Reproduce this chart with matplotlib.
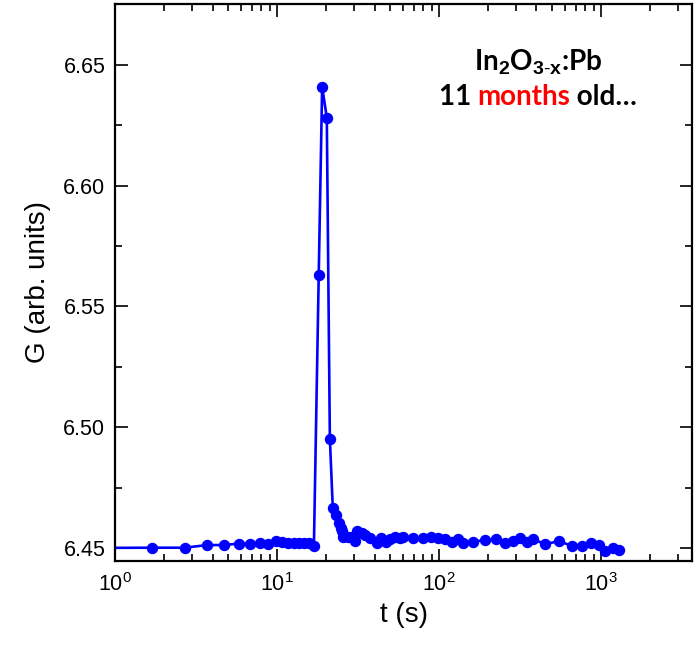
import matplotlib
matplotlib.use("Agg")
import matplotlib.pyplot as plt
from matplotlib.ticker import LogLocator, MultipleLocator, NullFormatter

plt.rcParams['font.family'] = ['Liberation Sans', 'DejaVu Sans']
plt.rcParams['mathtext.fontset'] = 'custom'
plt.rcParams['mathtext.rm'] = 'Liberation Sans'
plt.rcParams['mathtext.it'] = 'Liberation Sans:italic'
plt.rcParams['mathtext.bf'] = 'Liberation Sans:bold'

# ---- data ----
t = [0.7, 1.7, 2.7, 3.7, 4.7, 5.8, 6.8, 7.8, 8.8, 9.8,
     10.7, 11.7, 12.7, 13.7, 14.7, 15.7, 16.9,
     18.1, 19.0, 20.3, 21.2, 22.1, 23.1, 24.1, 24.8,
     25.3, 25.7, 27.5, 29.0, 30.3, 31.3, 33.3, 34.9, 37.5, 41.2,
     43.9, 47.1, 49.9, 53.5, 57.5, 59.7, 68.8, 79.3, 89.3, 99.0,
     108.9, 119.8, 130.4, 141.3, 161.4, 192.3, 224.9, 255.5, 285.1, 316.2,
     350.8, 382.2, 451, 553, 659, 760, 868, 977, 1059, 1181, 1297]
G = [6.4500, 6.4501, 6.4501, 6.4512, 6.4512, 6.4518, 6.4517, 6.4521, 6.4517, 6.4528,
     6.4523, 6.4522, 6.4521, 6.4521, 6.4520, 6.4519, 6.4508,
     6.5631, 6.6409, 6.6282, 6.4953, 6.4667, 6.4636, 6.4602, 6.4584,
     6.4571, 6.4547, 6.4547, 6.4545, 6.4529, 6.4571, 6.4561, 6.4554, 6.4540, 6.4522,
     6.4540, 6.4526, 6.4536, 6.4547, 6.4540, 6.4547, 6.4540, 6.4543, 6.4547, 6.4540,
     6.4536, 6.4526, 6.4537, 6.4522, 6.4526, 6.4532, 6.4536, 6.4519, 6.4528, 6.4541,
     6.4524, 6.4537, 6.4515, 6.4529, 6.4508, 6.4510, 6.4522, 6.4511, 6.4489, 6.4499, 6.4492]

x_limits = (1.0, 3650)
y_limits = (6.4446, 6.6752)
y_major = 0.05
y_minor = 0.025

fig = plt.figure(figsize=(6.98, 6.46), dpi=100)
ax = fig.add_axes([0.1648, 0.1316, 0.8266, 0.8622])

ax.plot(t, G, '-o', color='#0000FF', lw=1.9, ms=7.2, clip_on=True)

ax.set_xscale('log')
ax.set_xlim(*x_limits)
ax.set_ylim(*y_limits)
ax.xaxis.set_major_locator(LogLocator(base=10, numticks=10))
ax.xaxis.set_minor_locator(LogLocator(base=10, subs=range(2, 10), numticks=20))
ax.xaxis.set_minor_formatter(NullFormatter())
ax.yaxis.set_major_locator(MultipleLocator(y_major))
ax.yaxis.set_minor_locator(MultipleLocator(y_minor))
ax.yaxis.set_major_formatter(matplotlib.ticker.FormatStrFormatter('%.2f'))

for s in ax.spines.values():
    s.set_linewidth(1.6)
ax.tick_params(which='both', direction='in', top=True, right=True, width=1.2)
ax.tick_params(which='major', length=9, labelsize=15.5)
ax.tick_params(which='minor', length=5)
ax.tick_params(axis='y', which='major', pad=7)
ax.tick_params(axis='x', which='major', pad=9)

ax.set_xlabel('t (s)', fontsize=20, labelpad=4)
ax.set_ylabel('G (arb. units)', fontsize=20, labelpad=9)

# annotation
ann_font = ['Lato', 'DejaVu Sans']
fig.text(538 / 698, 1 - 62 / 646, r'In$_\mathbf{2}$O$_\mathbf{3\text{-}x}$:Pb',
         ha='center', va='center', fontsize=20, fontweight='bold', family=ann_font)

fig.canvas.draw()
renderer = fig.canvas.get_renderer()
parts = [('11 ', 'black'), ('months', '#FF0000'), (' old\u2026', 'black')]
texts = []
for s, c in parts:
    tx = fig.text(0, 0, s, color=c, fontsize=20, fontweight='bold', family=ann_font,
                  ha='left', va='center')
    texts.append(tx)
widths = [tx.get_window_extent(renderer).width for tx in texts]
total = sum(widths)
cx_pix = 538
cy_pix = 646 - 97
x0 = cx_pix - total / 2
for tx, w in zip(texts, widths):
    tx.set_position((x0 / 698, cy_pix / 646))
    x0 += w

fig.savefig('out.png', dpi=100)
